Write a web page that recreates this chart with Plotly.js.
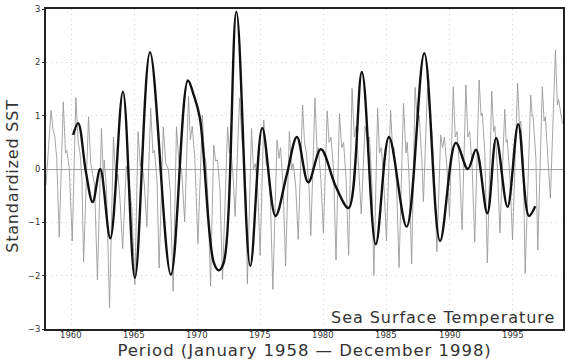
<!DOCTYPE html>
<html>
<head>
<meta charset="utf-8">
<script src="https://cdn.plot.ly/plotly-3.0.1.min.js"></script>
<style>
  html, body { margin: 0; padding: 0; background: #fff; }
  #chart { width: 565px; height: 359px; }
</style>
</head>
<body>
<div id="chart"></div>
<script>
// Monthly standardized SST anomaly (decimal year, value)
const monthlyYears = [
  1958.00, 1958.40, 1958.55, 1958.70, 1958.85,
  1959.05, 1959.37, 1959.55, 1959.65, 1959.85,
  1960.08, 1960.37, 1960.55, 1960.70, 1960.85,
  1960.98, 1961.37, 1961.55, 1961.70, 1961.85,
  1962.08, 1962.40, 1962.55, 1962.62, 1962.80,
  1963.04, 1963.35, 1963.55, 1963.70, 1963.85,
  1964.08, 1964.37, 1964.60, 1964.80,
  1965.05, 1965.30, 1965.48, 1965.58, 1965.80,
  1966.00, 1966.30, 1966.48, 1966.60, 1966.80,
  1966.97, 1967.30, 1967.50, 1967.70, 1967.85,
  1968.08, 1968.35, 1968.55, 1968.75,
  1969.00, 1969.30, 1969.45, 1969.60, 1969.80,
  1970.05, 1970.40, 1970.55, 1970.70, 1970.85,
  1971.05, 1971.30, 1971.45, 1971.60, 1971.80,
  1972.00, 1972.40, 1972.55, 1972.65, 1972.85,
  1973.00, 1973.35, 1973.55, 1973.70, 1973.85,
  1973.97, 1974.30, 1974.45, 1974.60, 1974.80,
  1974.98, 1975.27, 1975.45, 1975.60, 1975.80,
  1975.99, 1976.32, 1976.48, 1976.60, 1976.80,
  1977.00, 1977.30, 1977.48, 1977.60, 1977.80,
  1978.00, 1978.35, 1978.50, 1978.65, 1978.85,
  1979.00, 1979.33, 1979.50, 1979.60, 1979.80,
  1980.00, 1980.30, 1980.45, 1980.60, 1980.80,
  1981.00, 1981.27, 1981.45, 1981.60, 1981.80,
  1982.00, 1982.27, 1982.45, 1982.60, 1982.80,
  1983.00, 1983.30, 1983.50, 1983.65, 1983.85,
  1984.00, 1984.30, 1984.45, 1984.60, 1984.80,
  1985.00, 1985.33, 1985.50, 1985.60, 1985.80,
  1986.00, 1986.35, 1986.55, 1986.65, 1986.80,
  1987.00, 1987.27, 1987.45, 1987.60, 1987.80,
  1987.93, 1988.25, 1988.45, 1988.60, 1988.80,
  1989.00, 1989.30, 1989.45, 1989.60, 1989.80,
  1990.00, 1990.30, 1990.45, 1990.60, 1990.80,
  1991.00, 1991.30, 1991.45, 1991.60, 1991.80,
  1992.00, 1992.35, 1992.50, 1992.60, 1992.80,
  1993.00, 1993.35, 1993.50, 1993.60, 1993.80,
  1994.00, 1994.38, 1994.50, 1994.58, 1994.80,
  1995.00, 1995.40, 1995.55, 1995.65, 1995.85,
  1996.00, 1996.44, 1996.55, 1996.62, 1996.85,
  1997.00, 1997.36, 1997.50, 1997.60, 1997.85,
  1998.00, 1998.40, 1998.55, 1998.65, 1998.96
];
const monthlyValues = [
  -0.30, 1.10, 0.75, 0.60, 0.20,
  -1.28, 1.26, 0.30, 0.35, 0.00,
  -1.35, 1.34, 0.50, 0.30, -0.20,
  -1.74, 0.98, 0.10, -0.10, -0.30,
  -2.08, 0.76, -0.20, 0.17, -0.40,
  -2.60, 0.60, -0.30, -0.10, -0.50,
  -1.49, 0.05, -0.30, -0.70,
  -2.17, 0.70, 0.05, 0.23, -0.30,
  -1.08, 1.14, 0.30, 0.35, -0.20,
  -1.86, 0.79, 0.10, 0.00, -0.40,
  -2.29, 0.79, 0.10, 0.00,
  -0.99, 1.36, 0.55, 0.80, 0.20,
  -1.40, 1.01, 0.30, 0.10, -0.60,
  -2.20, 0.45, 0.15, 0.17, -0.40,
  -2.07, 0.79, 0.30, 0.45, -0.20,
  -0.89, 1.33, 0.50, 0.30, -0.50,
  -2.15, 0.76, 0.00, 0.10, -0.40,
  -1.62, 0.92, 0.10, 0.00, -0.60,
  -2.26, 0.54, 0.20, 0.40, -0.30,
  -1.82, 0.70, 0.00, 0.10, -0.30,
  -1.32, 1.20, 0.50, 0.30, -0.30,
  -1.25, 1.33, 0.30, 0.40, -0.20,
  -1.20, 1.09, 0.50, 0.60, 0.00,
  -1.71, 1.04, 0.40, 0.50, -0.20,
  -1.62, 1.51, 0.60, 0.80, 0.00,
  -0.84, 0.80, 0.50, 0.60, -0.30,
  -2.00, 1.14, 0.30, 0.40, -0.30,
  -1.35, 1.10, 0.30, 0.40, -0.30,
  -1.85, 1.23, 0.30, 0.50, -0.20,
  -1.78, 1.53, 0.90, 1.00, 0.20,
  -0.61, 1.51, 1.00, 0.70, -0.20,
  -1.55, 0.64, 0.40, 0.60, 0.00,
  -0.90, 1.54, 0.60, 0.70, 0.00,
  -1.14, 1.58, 0.60, 0.70, 0.00,
  -1.37, 1.67, 1.00, 1.05, 0.30,
  -1.76, 1.46, 0.70, 0.80, 0.00,
  -1.20, 1.12, 0.50, 0.55, -0.20,
  -1.33, 1.61, 0.80, 0.90, 0.10,
  -1.96, 1.39, 1.00, 1.00, 0.20,
  -1.52, 1.54, 0.90, 0.98, 0.00,
  -0.55, 2.23, 1.20, 1.30, 0.85
];

// Low-pass filtered series (turning points and crossings)
const smoothYears = [
  1960.15, 1960.55, 1961.16, 1961.70, 1962.30, 1963.10, 1964.10, 1965.05,
  1966.25, 1967.90, 1969.25, 1969.70, 1970.20, 1971.30, 1971.70, 1972.10,
  1973.10, 1974.20, 1975.15, 1976.20, 1977.10, 1977.90, 1978.80, 1979.80,
  1981.00, 1982.00, 1983.05, 1984.15, 1985.20, 1986.60, 1988.00, 1989.25,
  1990.50, 1991.45, 1992.10, 1993.00, 1993.70, 1994.60, 1995.45, 1996.30,
  1996.80
];
const smoothValues = [
  0.64, 0.86, -0.05, -0.62, 0.00, -1.30, 1.45, -2.04,
  2.19, -1.98, 1.66, 1.40, 0.96, -1.75, -1.90, -1.75,
  2.95, -1.82, 0.77, -0.88, -0.10, 0.60, -0.25, 0.37,
  -0.34, -0.73, 1.82, -1.41, 0.60, -1.08, 2.17, -1.35,
  0.49, 0.00, 0.36, -0.83, 0.58, -0.71, 0.84, -0.88,
  -0.70
];

const xTicks = [1960, 1965, 1970, 1975, 1980, 1985, 1990, 1995];
const yTicks = [-3, -2, -1, 0, 1, 2, 3];
const yTickText = ['\u22123', '\u22122', '\u22121', '0', '1', '2', '3'];

const traces = [
  {
    x: monthlyYears, y: monthlyValues,
    type: 'scatter', mode: 'lines',
    line: { color: '#969696', width: 0.85 },
    hoverinfo: 'skip'
  },
  {
    x: smoothYears, y: smoothValues,
    type: 'scatter', mode: 'lines',
    line: { color: '#111111', width: 2.4, shape: 'spline', smoothing: 1 },
    hoverinfo: 'skip'
  }
];

const tickFont = { family: 'DejaVu Sans, sans-serif', size: 8.5, color: '#333' };
const labelFont = { family: 'DejaVu Sans, sans-serif', size: 16, color: '#333' };

// Year labels along the bottom edge, set close under the frame
const yearLabels = xTicks.map(function (yr) {
  return {
    text: String(yr), xref: 'x', yref: 'paper', x: yr, y: -0.0175,
    xanchor: 'center', yanchor: 'middle', showarrow: false, font: tickFont
  };
});

const layout = {
  width: 565, height: 359,
  margin: { l: 46, r: 2, t: 9, b: 30 },
  paper_bgcolor: '#ffffff', plot_bgcolor: '#ffffff',
  showlegend: false,
  xaxis: {
    range: [1958, 1999],
    tickvals: xTicks,
    ticks: '', showticklabels: false,
    showgrid: true, gridcolor: '#d2d2d2', griddash: '1px,4px', gridwidth: 1,
    zeroline: false,
    showline: true, linecolor: '#222', linewidth: 2, mirror: true
  },
  yaxis: {
    range: [-3, 3],
    tickvals: yTicks, ticktext: yTickText,
    ticks: 'outside', ticklen: 2, tickcolor: '#333',
    tickfont: tickFont,
    showgrid: true, gridcolor: '#d2d2d2', griddash: '1px,4px', gridwidth: 1,
    zeroline: true, zerolinecolor: '#a0a0a0', zerolinewidth: 1,
    showline: true, linecolor: '#222', linewidth: 2, mirror: true
  },
  annotations: [
    {
      text: 'Sea Surface Temperature',
      xref: 'paper', yref: 'paper', x: 0.768, y: 0.035,
      xanchor: 'center', yanchor: 'middle', showarrow: false,
      font: labelFont
    },
    {
      text: 'Period (January 1958 \u2014 December 1998)',
      xref: 'paper', yref: 'paper', x: 0.5, y: -0.067,
      xanchor: 'center', yanchor: 'middle', showarrow: false,
      font: { family: 'DejaVu Sans, sans-serif', size: 16.5, color: '#333' }
    },
    {
      text: 'Standardized SST',
      xref: 'paper', yref: 'paper', x: -0.065, y: 0.478,
      xanchor: 'center', yanchor: 'middle', textangle: -90, showarrow: false,
      font: labelFont
    }
  ].concat(yearLabels)
};

// Wider letter spacing for the three captions
const spacing = { 0: '0.95px', 1: '0.95px', 2: '0.8px' };

Plotly.newPlot('chart', traces, layout, { displayModeBar: false, staticPlot: true })
  .then(function () {
    Object.keys(spacing).forEach(function (idx) {
      const t = document.querySelector('.annotation[data-index="' + idx + '"] .annotation-text');
      if (t) t.style.letterSpacing = spacing[idx];
    });
  });
</script>
</body>
</html>
